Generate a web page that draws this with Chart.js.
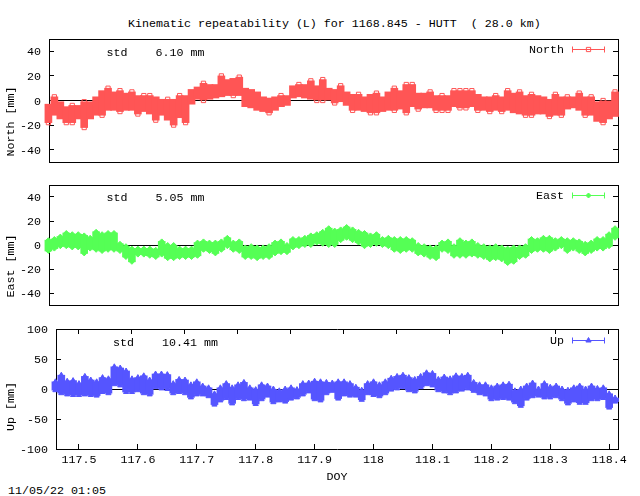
<!DOCTYPE html>
<html>
<head>
<meta charset="utf-8">
<title>Kinematic repeatability</title>
<script src="https://cdn.jsdelivr.net/npm/chart.js@4/dist/chart.umd.min.js"></script>
<style>
    html, body { margin: 0; padding: 0; background: #fff; }
    body { width: 640px; height: 496px; position: relative; overflow: hidden; }
    canvas { position: absolute; left: 0; }
    .label { position: absolute; font: 11.67px "Liberation Mono", monospace; color: #000; white-space: pre; line-height: 14px; }
</style>
</head>
<body>
<div class="label" style="left:128px;top:17px">Kinematic repeatability (L) for 1168.845 - HUTT  ( 28.0 km)</div>
<canvas id="north" width="640" height="170" style="top:0"></canvas>
<canvas id="east" width="640" height="140" style="top:170px"></canvas>
<canvas id="up" width="640" height="164" style="top:320px"></canvas>
<div class="label" style="left:8px;top:484px">11/05/22 01:05</div>

<script>
// day of year, one column every 0.01
const doy = [
    117.46, 117.47, 117.48, 117.49, 117.50, 117.51, 117.52, 117.53, 117.54, 117.55, 117.56, 117.57,
    117.58, 117.59, 117.60, 117.61, 117.62, 117.63, 117.64, 117.65, 117.66, 117.67, 117.68, 117.69,
    117.70, 117.71, 117.72, 117.73, 117.74, 117.75, 117.76, 117.77, 117.78, 117.79, 117.80, 117.81,
    117.82, 117.83, 117.84, 117.85, 117.86, 117.87, 117.88, 117.89, 117.90, 117.91, 117.92, 117.93,
    117.94, 117.95, 117.96, 117.97, 117.98, 117.99, 118.00, 118.01, 118.02, 118.03, 118.04, 118.05,
    118.06, 118.07, 118.08, 118.09, 118.10, 118.11, 118.12, 118.13, 118.14, 118.15, 118.16, 118.17,
    118.18, 118.19, 118.20, 118.21, 118.22, 118.23, 118.24, 118.25, 118.26, 118.27, 118.28, 118.29,
    118.30, 118.31, 118.32, 118.33, 118.34, 118.35, 118.36, 118.37, 118.38, 118.39, 118.40, 118.41
];

// upper and lower edge of the scatter in each column (mm)
const northHigh = [
    -3, 3, -1, -5, -4, -4, -1, -1, 3, 8, 10, 7, 8, 6, 7, 4, 4, 4, 3, 1, 1, 1, 4, 4,
    9, 11, 14, 13, 13, 20, 17, 18, 19, 10, 9, 7, 3, 2, 3, 4, 4, 12, 13, 13, 16, 12, 17, 10,
    9, 12, 7, 5, 5, 3, 5, 6, 3, 7, 10, 8, 13, 13, 6, 6, 7, 4, 4, 4, 8, 8, 8, 8,
    5, 3, 3, 4, 3, 8, 6, 7, 4, 5, 4, 3, 1, 5, 3, 3, 3, 6, 3, 3, -1, 0, 0, 7
];
const northLow = [
    -18, -12, -15, -18, -18, -15, -22, -15, -12, -12, -8, -8, -9, -8, -8, -11, -9, -11, -16, -12, -16, -20, -14, -18,
    -3, 1, 0, 1, 2, 3, 4, 4, 4, -5, -6, -8, -9, -10, -8, -5, -4, 2, 3, 2, 1, 0, 0, 0,
    -2, -1, -4, -8, -8, -9, -10, -10, -9, -8, -8, -7, -10, -5, -7, -6, -6, -8, -8, -8, -5, -6, -6, -5,
    -8, -8, -9, -8, -9, -8, -10, -11, -12, -12, -11, -11, -13, -12, -12, -7, -6, -8, -12, -12, -17, -18, -15, -13
];
const eastHigh = [
    4, 5, 7, 10, 9, 9, 8, 6, 11, 9, 10, 10, 1, -1, -3, -3, -3, -3, -4, 3, 0, 0, -3, -3,
    -3, 2, 3, 2, 2, 3, 6, 2, 3, -2, -1, -2, -2, -1, 2, 3, 0, 5, 5, 6, 8, 9, 11, 14,
    12, 13, 15, 13, 11, 10, 8, 9, 5, 6, 5, 5, 5, 4, 0, -1, -2, -2, 2, 3, -1, 4, 2, 3,
    0, -1, -2, -1, -2, -3, -2, -2, -1, 5, 4, 6, 6, 4, 5, 4, 4, 3, 1, 2, 5, 5, 9, 14
];
const eastLow = [
    -5, -3, -1, -1, -2, -2, -7, -3, -4, -5, -4, -4, -5, -10, -14, -8, -8, -9, -10, -8, -11, -11, -10, -10,
    -10, -9, -4, -5, -7, -4, -1, -4, -5, -10, -10, -11, -10, -10, -7, -6, -6, -2, -1, 0, 0, 2, 1, 0,
    0, 4, 6, 4, 2, -1, 0, 1, 0, -1, -4, -5, -4, -4, -7, -8, -10, -11, -4, -5, -9, -9, -9, -8,
    -9, -10, -12, -11, -12, -15, -14, -10, -9, -5, -4, -4, -5, -3, -1, -5, -3, -5, -7, -5, -3, -3, -1, 6
];
const upHigh = [
    12, 23, 13, 14, 9, 21, 15, 12, 19, 17, 37, 35, 30, 17, 19, 22, 15, 25, 25, 24, 9, 16, 15, 7,
    12, 5, 2, -8, 2, 9, 2, 7, 11, 2, -1, 7, 5, 0, -3, 0, 2, -1, 9, 10, 13, 12, 11, 10,
    12, 12, 9, 3, -2, 9, 12, 7, 12, 18, 21, 23, 19, 16, 21, 27, 26, 16, 20, 17, 22, 21, 23, 11,
    7, 7, 2, 5, 7, 8, -3, 0, 5, 10, 0, 9, 3, 5, 0, -2, 2, 5, 0, 5, 1, 2, -8, -15
];
const upLow = [
    -2, -7, -9, -10, -10, -9, -10, -11, -5, -7, 8, 6, -5, -5, -2, -7, -9, 3, 1, 0, -7, -5, -7, -14,
    -9, -9, -12, -26, -19, -15, -24, -15, -17, -16, -25, -17, -11, -22, -19, -21, -16, -14, -9, -4, -17, -19, -7, -3,
    -16, -9, -11, -11, -18, -7, -10, -12, -7, -1, 1, 3, -2, -4, 3, 8, 6, -2, -4, -7, -4, -1, 1, -3,
    -7, -9, -17, -16, -15, -16, -22, -28, -16, -12, -11, -14, -14, -12, -17, -24, -19, -23, -23, -17, -17, -15, -31, -21
];

const xTicks = [117.5, 117.6, 117.7, 117.8, 117.9, 118, 118.1, 118.2, 118.3, 118.4];
const neTicks = [-40, -20, 0, 20, 40];
const upTicks = [-100, -50, 0, 50, 100];

Chart.defaults.font.family = "'Liberation Mono', monospace";
Chart.defaults.font.size = 11.67;
Chart.defaults.color = '#000';

// legend sample and the std note sit inside the plot area
const notesPlugin = {
    id: 'notes',
    afterDraw(chart, args, opts) {
        const ctx = chart.ctx;
        ctx.save();
        ctx.font = "11.67px 'Liberation Mono', monospace";
        ctx.fillStyle = '#000';
        ctx.textBaseline = 'middle';
        ctx.textAlign = 'left';
        ctx.fillText(opts.std, opts.stdX, opts.stdY + 1);
        ctx.textAlign = 'right';
        ctx.fillText(opts.name, 564, opts.keyY + 1);

        const y = Math.round(opts.keyY) + 0.5;
        ctx.strokeStyle = opts.color;
        ctx.lineWidth = 1;
        ctx.beginPath();
        ctx.moveTo(572.5, y);
        ctx.lineTo(604.5, y);
        ctx.moveTo(572.5, y - 3);
        ctx.lineTo(572.5, y + 3);
        ctx.moveTo(604.5, y - 3);
        ctx.lineTo(604.5, y + 3);
        ctx.stroke();
        ctx.fillStyle = opts.markerFill;
        Chart.helpers.drawPoint(ctx, { pointStyle: opts.marker, radius: opts.markerSize, borderWidth: 1 }, 588.5, y);
        ctx.restore();
    }
};

// size the axes by hand so the plot frames land where the reference has them
function fixedSize(prop, size) {
    return ax => {
        ax[prop] = size;
        ax.paddingLeft = ax.paddingRight = ax.paddingTop = ax.paddingBottom = 0;
    };
}

function setTicks(values) {
    return ax => { ax.ticks = values.map(v => ({ value: v })); };
}

function makePanel(id, p) {
    const bars = doy.map((d, i) => ({ x: d, y: [p.low[i], p.high[i]] }));
    let edges = doy.map((d, i) => ({ x: d, y: p.high[i] }))
        .concat(doy.map((d, i) => ({ x: d, y: p.low[i] })));

    if (p.peaksOnly) {
        // hollow squares only show where a column sticks out of the band
        const isPeak = (arr, i, sign) =>
            sign * arr[i] >= sign * (arr[i - 1] ?? arr[i]) && sign * arr[i] >= sign * (arr[i + 1] ?? arr[i]);
        edges = [];
        doy.forEach((d, i) => {
            if (isPeak(p.high, i, 1)) edges.push({ x: d, y: p.high[i] });
            if (isPeak(p.low, i, -1)) edges.push({ x: d, y: p.low[i] });
        });
    }

    new Chart(document.getElementById(id), {
        type: 'bar',
        data: {
            datasets: [
                {
                    label: p.name,
                    data: bars,
                    backgroundColor: p.color,
                    barThickness: 7,
                    borderWidth: 0,
                    clip: false
                },
                {
                    type: 'line',
                    label: p.name + ' edge',
                    data: edges,
                    showLine: false,
                    pointStyle: p.marker,
                    pointRadius: p.markerSize,
                    pointBorderWidth: 1,
                    pointBorderColor: p.color,
                    pointBackgroundColor: p.markerFill,
                    clip: false
                }
            ]
        },
        options: {
            responsive: false,
            animation: false,
            devicePixelRatio: 1,
            layout: { padding: { top: p.top, bottom: p.bottom, left: 0, right: 0 } },
            plugins: {
                legend: { display: false },
                title: { display: false },
                tooltip: { enabled: false },
                notes: {
                    std: p.std, stdX: p.stdX, stdY: p.stdY,
                    name: p.name, keyY: p.keyY, color: p.color,
                    marker: p.marker, markerSize: p.markerSize, markerFill: p.markerFill
                }
            },
            scales: {
                x: {
                    type: 'linear',
                    position: 'bottom',
                    min: 117.461,
                    max: 118.415,
                    offset: false,
                    afterBuildTicks: setTicks(p.showX ? xTicks : []),
                    afterFit: fixedSize('height', p.showX ? 35 : 0),
                    border: { color: '#000' },
                    grid: { offset: false, drawOnChartArea: false, tickLength: -5, tickColor: '#000' },
                    ticks: {
                        display: p.showX,
                        padding: 9,
                        maxRotation: 0,
                        autoSkip: false,
                        callback: v => String(v)
                    },
                    title: { display: p.showX, text: 'DOY', padding: 0 }
                },
                xTop: {
                    type: 'linear',
                    axis: 'x',
                    position: 'top',
                    min: 117.461,
                    max: 118.415,
                    afterBuildTicks: setTicks(p.showX ? xTicks : []),
                    afterFit: fixedSize('height', 0),
                    border: { color: '#000' },
                    grid: { drawOnChartArea: false, tickLength: -5, tickColor: '#000' },
                    ticks: { display: false }
                },
                y: {
                    type: 'linear',
                    position: 'left',
                    min: p.min,
                    max: p.max,
                    afterBuildTicks: setTicks(p.ticks),
                    afterFit: fixedSize('width', p.left),
                    border: { color: '#000' },
                    grid: {
                        color: c => (c.tick && c.tick.value === 0 ? '#000' : 'transparent'),
                        tickLength: -5,
                        tickColor: '#000'
                    },
                    ticks: { padding: 13, labelOffset: 1, callback: v => String(v) },
                    // trailing spaces push the rotated title below the frame centre, as in the reference
                    title: { display: true, text: p.name + ' [mm]' + p.titleTail, padding: { top: 4, bottom: 0 } }
                },
                yRight: {
                    type: 'linear',
                    axis: 'y',
                    position: 'right',
                    min: p.min,
                    max: p.max,
                    afterBuildTicks: setTicks(p.ticks),
                    afterFit: fixedSize('width', 22),
                    border: { color: '#000' },
                    grid: { drawOnChartArea: false, tickLength: -5, tickColor: '#000' },
                    ticks: { display: false }
                }
            }
        },
        plugins: [notesPlugin]
    });
}

makePanel('north', {
    name: 'North', high: northHigh, low: northLow, color: '#ff5555',
    marker: 'rect', markerSize: 3, markerFill: 'rgba(255,255,255,0)', peaksOnly: true,
    min: -50, max: 50, ticks: neTicks, left: 49, top: 39, bottom: 8, showX: false, titleTail: '      ',
    std: 'std    6.10 mm', stdX: 106.5, stdY: 52, keyY: 49
});
makePanel('east', {
    name: 'East', high: eastHigh, low: eastLow, color: '#55ff55',
    marker: 'rectRot', markerSize: 2.5, markerFill: '#55ff55',
    min: -50, max: 50, ticks: neTicks, left: 49, top: 15, bottom: 4, showX: false, titleTail: '      ',
    std: 'std    5.05 mm', stdX: 106.5, stdY: 27, keyY: 25
});
makePanel('up', {
    name: 'Up', high: upHigh, low: upLow, color: '#5555ff',
    marker: 'triangle', markerSize: 3, markerFill: '#5555ff',
    min: -100, max: 100, ticks: upTicks, left: 56, top: 9, bottom: 0, showX: true, titleTail: '     ',
    std: 'std    10.41 mm', stdX: 113, stdY: 22, keyY: 20
});
</script>
</body>
</html>
